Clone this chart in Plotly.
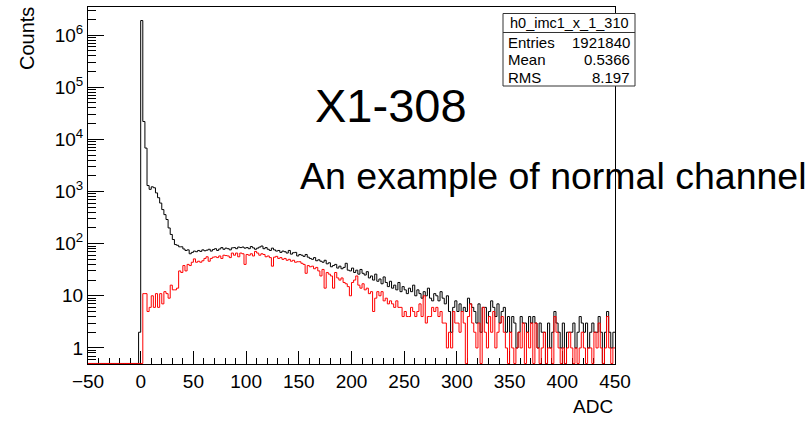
import plotly.graph_objects as go

# ---------------- data ----------------
bin_width = 2
x_min, x_max = -50, 450

# counts below zero (bins -50..-2)
black_neg = [0] * 24 + [2]
red_neg = [0] * 25

# counts for bins 0..448 (bin start), 2 ADC per bin
black_pos = [
    1900000, 22000, 6800, 1300, 1100, 1230, 1180, 940, 760, 600,
    450, 360, 290, 200, 150, 120, 96, 93, 87, 87,
    79, 74, 76, 64, 68, 72, 70, 74, 71, 76,
    73, 75, 78, 72, 77, 80, 74, 79, 84, 78,
    82, 80, 76, 83, 84, 80, 86, 84, 86, 82,
    84, 80, 88, 83, 78, 82, 86, 90, 80, 84,
    78, 74, 82, 76, 72, 74, 68, 72, 70, 66,
    74, 63, 67, 68, 58, 62, 60, 57, 62, 55,
    52, 50, 54, 47, 49, 46, 44, 48, 41, 43,
    36, 38, 40, 34, 37, 33, 35, 42, 31, 30,
    34, 28, 31, 26, 32, 27, 25, 29, 22, 24,
    20, 26, 19, 21, 17, 23, 18, 15, 19, 14,
    16, 13, 18, 12, 15, 13, 11, 14, 12, 16,
    10, 13, 11, 9, 12, 10, 14, 9, 8, 11,
    10, 8, 12, 9, 7, 10, 5, 2, 6, 8,
    5, 7, 5, 6, 5, 9, 7, 6, 5, 3,
    7, 2, 6, 6, 3, 5, 8, 6, 4, 7,
    3, 5, 6, 2, 4, 2, 4, 3, 1, 2,
    4, 3, 3, 2, 4, 3, 4, 3, 1, 3,
    2, 2, 0, 3, 1, 2, 5, 3, 2, 1,
    3, 0, 2, 2, 2, 3, 1, 2, 4, 3,
    2, 3, 1, 2, 3, 2, 2, 4, 2, 0,
    2, 5, 2, 1, 2,
]

red_pos = [
    0, 11, 11, 5, 6, 10, 6, 11, 6, 11,
    7, 12, 11, 9, 16, 13, 13, 14, 30, 28,
    38, 30, 40, 38, 44, 51, 44, 46, 44, 47,
    52, 56, 46, 52, 55, 56, 54, 58, 52, 60,
    59, 58, 54, 66, 60, 66, 56, 66, 64, 40,
    62, 60, 64, 58, 71, 66, 60, 64, 62, 56,
    58, 54, 37, 55, 57, 52, 54, 50, 52, 48,
    50, 46, 48, 44, 45, 45, 42, 40, 27, 38,
    36, 37, 33, 35, 30, 24, 32, 14, 28, 26,
    24, 14, 28, 22, 20, 22, 18, 17, 15, 10,
    18, 20, 24, 16, 14, 17, 13, 14, 11, 12,
    5, 9, 12, 10, 12, 8, 9, 7, 8, 7,
    6, 8, 6, 6, 4, 5, 4, 4, 6, 5,
    4, 5, 7, 4, 10, 3, 4, 4, 6, 5,
    6, 4, 5, 3, 3, 1, 2, 1, 5, 3,
    3, 2, 5, 3, 0, 4, 7, 3, 2, 1,
    3, 0, 6, 2, 1, 4, 2, 5, 1, 2,
    3, 4, 2, 1, 0, 2, 1, 0, 1, 2,
    1, 3, 0, 2, 1, 3, 0, 3, 1, 0,
    1, 2, 0, 1, 1, 0, 4, 2, 1, 0,
    1, 0, 1, 2, 1, 0, 1, 0, 1, 2,
    1, 0, 1, 1, 0, 2, 1, 3, 1, 0,
    1, 4, 1, 0, 1,
]

x_tick_vals = [-50, 0, 50, 100, 150, 200, 250, 300, 350, 400, 450]
y_tick_vals = [1, 10, 100, 1000, 10000, 100000, 1000000]
y_tick_text = ["1", "10", "10<sup>2</sup>", "10<sup>3</sup>", "10<sup>4</sup>",
               "10<sup>5</sup>", "10<sup>6</sup>"]

stats_name = "h0_imc1_x_1_310"
stats_rows = [("Entries", "1921840"), ("Mean", "0.5366"), ("RMS", "8.197")]
title_text = "X1-308"
note_text = "An example of normal channel"

# ---------------- layout helpers ----------------
W, H = 812, 422
L, R, T, B = 88, 615, 7, 364
Y_LOW, Y_HIGH = -0.308, 6.538
FLOOR = 10 ** (Y_LOW + 0.01)


def px(xp):
    return (xp - L) / (R - L)


def py(yp):
    return (B - yp) / (B - T)


def step_xy(counts):
    edges = [x_min + i * bin_width for i in range(len(counts) + 1)]
    ys = [c if c > 0 else FLOOR for c in counts]
    ys = ys + [ys[-1]]
    return edges, ys


black = black_neg + black_pos
red = red_neg + red_pos

fig = go.Figure()
for counts, color in [(black, "black"), (red, "#ff0000")]:
    xs, ys = step_xy(counts)
    fig.add_trace(go.Scatter(x=xs, y=ys, mode="lines", line_shape="hv",
                             line=dict(color=color, width=1), showlegend=False,
                             hoverinfo="skip"))

minor_y = [m * 10 ** d for d in range(-1, 7) for m in range(2, 10)]
minor_y = [v for v in minor_y if 10 ** Y_LOW < v < 10 ** Y_HIGH]

font = "Liberation Sans, Arial, Helvetica, sans-serif"

fig.update_layout(
    width=W, height=H,
    margin=dict(l=L, r=W - R, t=T, b=H - B, pad=0),
    paper_bgcolor="white", plot_bgcolor="white",
    font=dict(family=font, color="black", size=19),
    xaxis=dict(range=[x_min, x_max], tickmode="array", tickvals=x_tick_vals,
               ticks="inside", ticklen=13, tickcolor="black", tickwidth=1,
               minor=dict(ticks="inside", ticklen=6, dtick=10, tick0=0,
                          tickcolor="black", tickwidth=1),
               showgrid=False, zeroline=False, showline=True, linecolor="black",
               linewidth=1, mirror=True, layer="below traces",
               tickfont=dict(size=19, family=font, color="black")),
    yaxis=dict(type="log", range=[Y_LOW, Y_HIGH], tickmode="array",
               tickvals=y_tick_vals, ticktext=y_tick_text,
               ticks="inside", ticklen=16, tickcolor="black", tickwidth=1,
               minor=dict(ticks="inside", ticklen=8, tickmode="array",
                          tickvals=minor_y, tickcolor="black", tickwidth=1),
               showgrid=False, zeroline=False, showline=True, linecolor="black",
               linewidth=1, mirror=True, layer="below traces",
               tickfont=dict(size=19, family=font, color="black")),
)

# stats box
bx0, bx1, by0, by1, bsep = 503, 635, 13.5, 86, 32.5
fig.add_shape(type="rect", xref="paper", yref="paper",
              x0=px(bx0), x1=px(bx1), y0=py(by1), y1=py(by0),
              fillcolor="white", line=dict(color="#333333", width=1), layer="above")
fig.add_shape(type="line", xref="paper", yref="paper",
              x0=px(bx0), x1=px(bx1), y0=py(bsep), y1=py(bsep),
              line=dict(color="#333333", width=1), layer="above")

ann = []
ann.append(dict(text=stats_name, x=px((bx0 + bx1) / 2), y=py(23.3),
                xanchor="center", yanchor="middle", font=dict(size=14.5)))
for i, (k, v) in enumerate(stats_rows):
    yy = py(42.5 + i * 17.3)
    ann.append(dict(text=k, x=px(506), y=yy, xanchor="left", yanchor="middle",
                    font=dict(size=15)))
    ann.append(dict(text=v, x=px(632), y=yy, xanchor="right", yanchor="middle",
                    font=dict(size=15)))

ann.append(dict(text=title_text, x=px(391), y=py(105), xanchor="center",
                yanchor="middle", font=dict(size=47)))
ann.append(dict(text=note_text, x=px(298), y=py(176), xanchor="left",
                yanchor="middle", font=dict(size=37.5)))
ann.append(dict(text="Counts", x=px(27), y=py(39), xanchor="center",
                yanchor="middle", textangle=-90, font=dict(size=20)))
ann.append(dict(text="ADC", x=px(593), y=py(406), xanchor="center",
                yanchor="middle", font=dict(size=19)))

for a in ann:
    a.update(xref="paper", yref="paper", showarrow=False)
    a["font"] = dict(family=font, color="black", **a["font"])
fig.update_layout(annotations=ann)

fig.write_html("out.html")
